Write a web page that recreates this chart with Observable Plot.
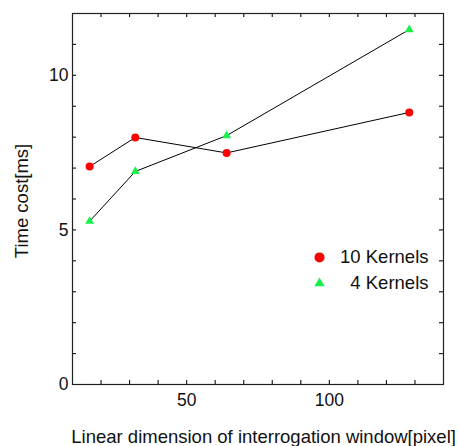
<!DOCTYPE html>
<html><head><meta charset="utf-8">
<script src="https://cdn.jsdelivr.net/npm/d3@7"></script>
<script src="https://cdn.jsdelivr.net/npm/@observablehq/plot@0.6"></script>
<style>body{margin:0;background:#fff}</style>
</head><body><div id="chart"></div>
<script>
const windowSizes = [16, 32, 64, 128];
const kernels10 = [7.05, 7.99, 7.49, 8.80];
const kernels4 = [5.28, 6.89, 8.05, 11.48];
const seriesNames = ["10 Kernels", "4 Kernels"];
const seriesColors = ["#ff0000", "#19f04a"];
const xTickLabels = [50, 100];
const yTickLabels = [0, 5, 10];
const xAllTicks = [20, 30, 40, 50, 60, 70, 80, 90, 100, 110, 120, 130];
const yAllTicks = [1, 2, 3, 4, 5, 6, 7, 8, 9, 10, 11];
const xTitle = "Linear dimension of interrogation window[pixel]";
const yTitle = "Time cost[ms]";

const d10 = windowSizes.map((x, i) => ({x, y: kernels10[i]}));
const d4 = windowSizes.map((x, i) => ({x, y: kernels4[i]}));
const font = "Liberation Sans, Arial, Helvetica, sans-serif";

const W = 459, H = 446, mL = 72, mR = 16, mT = 13, mB = 62;
const fw = W - mL - mR, fh = H - mT - mB, tl = 4;

const chart = Plot.plot({
  width: W,
  height: H,
  marginLeft: mL,
  marginRight: mR,
  marginTop: mT,
  marginBottom: mB,
  style: {fontFamily: font, background: "#fff", color: "#111"},
  x: {domain: [10, 140], axis: null},
  y: {domain: [0, 12], axis: null},
  marks: [
    // inward ticks on all four sides
    Plot.tickX(xAllTicks, {x: d => d, insetTop: fh - tl, stroke: "#222", strokeWidth: 1.2}),
    Plot.tickX(xAllTicks, {x: d => d, insetBottom: fh - tl, stroke: "#222", strokeWidth: 1.2}),
    Plot.tickY(yAllTicks, {y: d => d, insetRight: fw - tl, stroke: "#222", strokeWidth: 1.2}),
    Plot.tickY(yAllTicks, {y: d => d, insetLeft: fw - tl, stroke: "#222", strokeWidth: 1.2}),
    Plot.axisX({anchor: "bottom", ticks: xTickLabels, tickSize: 0, tickPadding: 9, fontSize: 17.5, label: null, fill: "#111"}),
    Plot.axisY({anchor: "left", ticks: yTickLabels, tickSize: 0, tickPadding: 4, fontSize: 17.5, label: null, fill: "#111"}),
    Plot.frame({stroke: "#222", strokeWidth: 1.2}),
    Plot.line(d10, {x: "x", y: "y", stroke: "#000", strokeWidth: 1}),
    Plot.line(d4, {x: "x", y: "y", stroke: "#000", strokeWidth: 1}),
    Plot.dot(d10, {x: "x", y: "y", r: 4, fill: seriesColors[0], symbol: "circle"}),
    Plot.dot(d4, {x: "x", y: "y", r: 3.3, fill: seriesColors[1], symbol: "triangle"}),
    // legend
    Plot.dot([seriesNames[0]], {frameAnchor: "right", dx: -124, dy: 58.4, r: 5, fill: seriesColors[0], symbol: "circle"}),
    Plot.dot([seriesNames[1]], {frameAnchor: "right", dx: -124, dy: 84.4, r: 3.8, fill: seriesColors[1], symbol: "triangle"}),
    Plot.text([seriesNames[0]], {text: d => d, frameAnchor: "right", dx: -15, dy: 58.4, textAnchor: "end", lineAnchor: "middle", fontSize: 18.5, fill: "#111"}),
    Plot.text([seriesNames[1]], {text: d => d, frameAnchor: "right", dx: -15, dy: 84.4, textAnchor: "end", lineAnchor: "middle", fontSize: 18.5, fill: "#111"}),
    // axis titles
    Plot.text([yTitle], {text: d => d, frameAnchor: "left", dx: -50, dy: 2, rotate: -90, textAnchor: "middle", lineAnchor: "middle", fontSize: 18.5, fill: "#111"}),
    Plot.text([xTitle], {text: d => d, frameAnchor: "bottom", dx: 5.6, dy: 53, textAnchor: "middle", lineAnchor: "middle", fontSize: 18.5, fill: "#111"})
  ]
});
document.getElementById("chart").appendChild(chart);
</script>
</body></html>
